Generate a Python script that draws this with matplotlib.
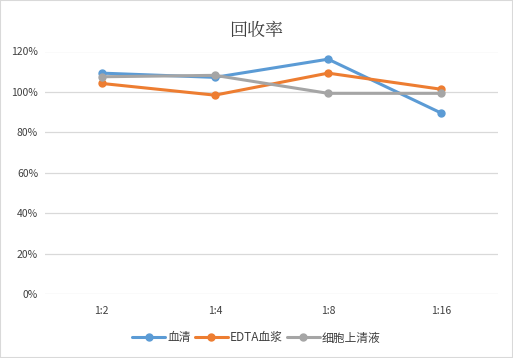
import matplotlib
matplotlib.use("Agg")
import matplotlib.pyplot as plt
from matplotlib.ticker import FuncFormatter

plt.rcParams['font.family'] = ['Noto Sans CJK SC', 'DejaVu Sans']

categories = ["1:2", "1:4", "1:8", "1:16"]
serum = [109.3, 107.2, 116.2, 89.5]
edta_plasma = [104.2, 98.4, 109.3, 101.3]
supernatant = [107.5, 108.2, 99.3, 99.3]
series_names = ["血清", "EDTA血浆", "细胞上清液"]
colors = ["#5B9BD5", "#ED7D31", "#A5A5A5"]

fig = plt.figure(figsize=(5.13, 3.58), dpi=100)
ax = fig.add_axes([45/513, 1-294/358, 453/513, (294-51.5)/358])

x = range(len(categories))
for vals, name, c in zip([serum, edta_plasma, supernatant], series_names, colors):
    ax.plot(x, vals, color=c, lw=2.2, marker='o', ms=5, label=name, solid_capstyle='round')

ax.set_xlim(-0.5, len(categories) - 0.5)
ax.set_ylim(0, 120)
ax.set_yticks(range(0, 121, 20))
ax.yaxis.set_major_formatter(FuncFormatter(lambda v, p: f"{int(v)}%"))
ax.set_xticks(list(x))
ax.set_xticklabels(categories)
ax.grid(axis='y', color='#D9D9D9', lw=0.9)
ax.set_axisbelow(True)
for s in ax.spines.values():
    s.set_visible(False)
ax.tick_params(length=0, labelsize=7.5, colors='#404040', pad=9)
ax.tick_params(axis='y', pad=5)

fig.text(0.5, 1-31/358, "回收率", ha='center', va='center', fontsize=13, color='#404040',
         family=['Noto Serif CJK SC', 'Noto Sans CJK SC'])

leg = fig.legend(loc='center', bbox_to_anchor=(0.5, 1-338/358), ncol=3, frameon=False,
                 fontsize=8.5, handlelength=2.8, columnspacing=0.3, handletextpad=0.2)
for t in leg.get_texts():
    t.set_color('#404040')

fig.patches.append(plt.Rectangle((0, 0), 1, 1, transform=fig.transFigure, fill=False,
                                 edgecolor='#D9D9D9', lw=1.5))
fig.savefig("out.png", dpi=100)
